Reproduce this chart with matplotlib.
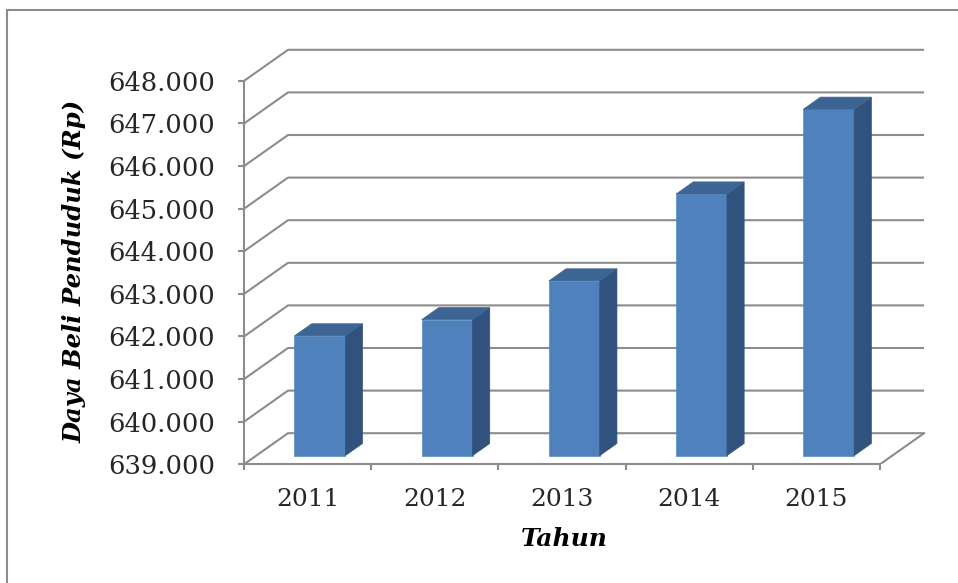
import matplotlib.pyplot as plt
from matplotlib.patches import Polygon
from matplotlib.lines import Line2D

# data
tahun = ['2011', '2012', '2013', '2014', '2015']
daya_beli = [641810, 642190, 643100, 645140, 647130]
y_ticks = list(range(639000, 649000, 1000))
y_tick_labels = [f'{t:,}'.replace(',', '.') for t in y_ticks]

# oblique depth of the chart box (x in categories, y in value units)
DX = 0.346
DY = 730
F0, F1 = 0.28, 0.67      # front/back of the bars inside the depth
W = 0.40                 # bar width
BASE = 639000

c_front = '#4F81BD'
c_side = '#30527C'
c_top = '#3C6594'
c_grid = '#8C8C8C'

fig = plt.figure(figsize=(9.58, 5.83), dpi=100)
ax = fig.add_axes([244 / 958, 118.7 / 583, 686.9 / 958, 426 / 583])
ax.set_xlim(0, 5.4)
ax.set_ylim(639000, 649000)

# side wall + back wall gridlines
for t in y_ticks:
    ax.plot([0, DX, 5 + DX], [t, t + DY, t + DY], color=c_grid, lw=1.5,
            zorder=1, solid_capstyle='butt')
# floor right edge
ax.plot([5, 5 + DX], [BASE, BASE + DY], color=c_grid, lw=1.5, zorder=1)

# bars
n = len(tahun)
for i in range(n):
    v = daya_beli[i]
    xl = i + 0.5 - W / 2 + F0 * DX
    xr = xl + W
    b = BASE + F0 * DY
    top = v + F0 * DY
    ddx = (F1 - F0) * DX
    ddy = (F1 - F0) * DY
    ax.bar(xl, v - BASE, bottom=b, width=W, align='edge', color=c_front,
           edgecolor='#5B8BC5', linewidth=0.5, zorder=3)
    ax.add_patch(Polygon([(xr, b), (xr + ddx, b + ddy), (xr + ddx, top + ddy), (xr, top)],
                         closed=True, facecolor=c_side, edgecolor=c_side, lw=0.5, zorder=3))
    ax.add_patch(Polygon([(xl, top), (xl + ddx, top + ddy), (xr + ddx, top + ddy), (xr, top)],
                         closed=True, facecolor=c_top, edgecolor=c_top, lw=0.5, zorder=3))

# axes / spines
for s in ['top', 'right']:
    ax.spines[s].set_visible(False)
ax.spines['left'].set_bounds(639000, 648000)
ax.spines['bottom'].set_bounds(0, 5)
for s in ['left', 'bottom']:
    ax.spines[s].set_color(c_grid)
    ax.spines[s].set_linewidth(1.5)
    ax.spines[s].set_zorder(2)

font = 'DejaVu Serif'
ax.set_yticks(y_ticks)
ax.set_yticklabels(y_tick_labels, fontsize=18.5, family=font, color='#262626')
ax.tick_params(axis='y', length=4.3, width=1.5, color=c_grid, pad=16.5)

ax.set_xticks(range(0, 6))
ax.set_xticklabels([])
ax.tick_params(axis='x', which='major', length=4.3, width=1.5, color=c_grid)
ax.set_xticks([i + 0.5 for i in range(n)], minor=True)
ax.set_xticklabels(tahun, minor=True, fontsize=18, family=font, color='#262626')
ax.tick_params(axis='x', which='minor', length=0, pad=17)

ax.set_ylabel('Daya Beli Penduduk (Rp)', fontsize=17.5, family=font,
              fontweight='bold', style='italic', color='black')
ax.yaxis.set_label_coords(-0.229, 0.454)
ax.set_xlabel('Tahun', fontsize=18, family=font, fontweight='bold',
              style='italic', color='black')
ax.xaxis.set_label_coords(0.466, -0.147)

# outer chart frame (only left and top visible)
fig.add_artist(Line2D([7 / 958, 7 / 958], [0, 1 - 10 / 583], color=c_grid, lw=1.5))
fig.add_artist(Line2D([7 / 958, 1], [1 - 10 / 583, 1 - 10 / 583], color=c_grid, lw=1.5))

plt.savefig('out.png', dpi=100)
